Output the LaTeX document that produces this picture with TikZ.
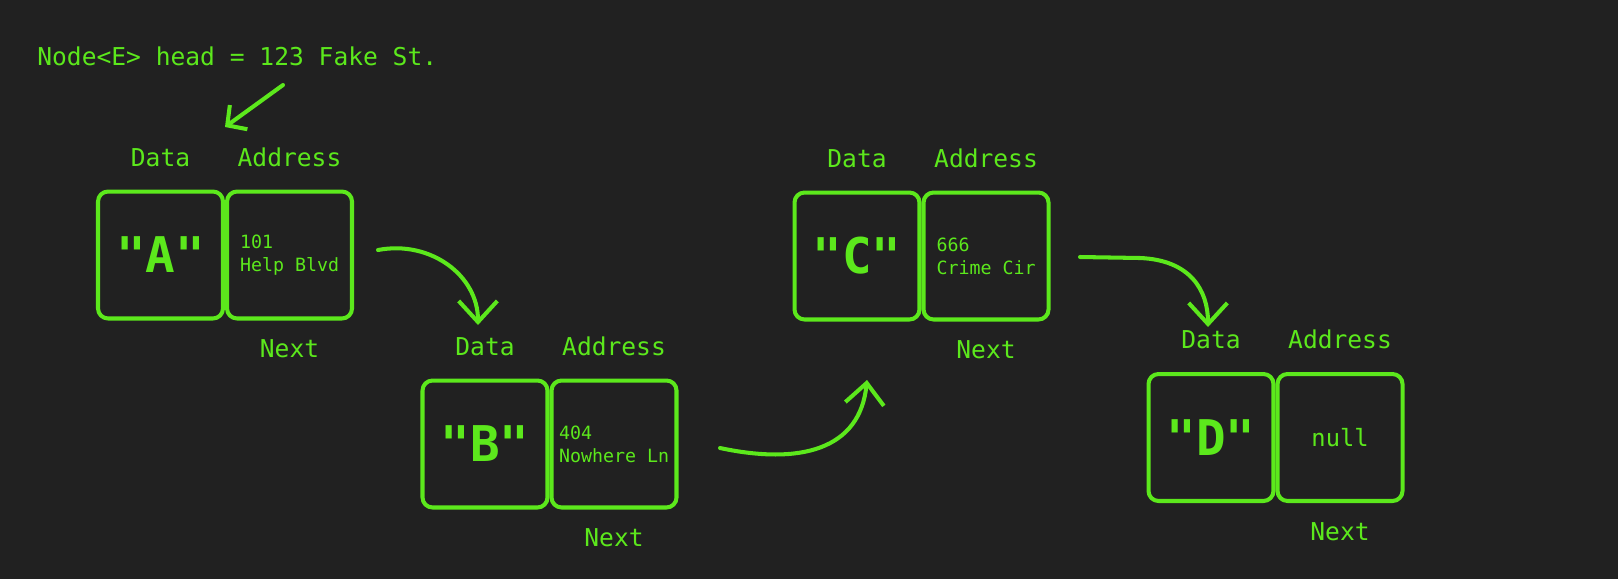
\documentclass[tikz,border=0pt]{standalone}
\usepackage{fontspec}
\setmonofont{DejaVu Sans Mono}
\usetikzlibrary{positioning,arrows.meta}
\definecolor{termGreen}{RGB}{92,232,28}
\definecolor{termBg}{RGB}{33,33,33}
\begin{document}
\begin{tikzpicture}
% linked list drawn on a pixel grid (y runs downwards)
\def\pxsz{0.02cm}
\providecommand{\llLineWidth}{2.3pt}
\providecommand{\llCornerRadius}{0.2cm}
\begin{scope}[x=\pxsz, y=-\pxsz, line cap=round, line join=round,
  cell/.style={draw=termGreen, line width=\llLineWidth, rounded corners=\llCornerRadius,
    minimum width=2.5cm, minimum height=2.54cm, inner sep=0pt, text=termGreen},
  datacell/.style={cell, font=\ttfamily\bfseries\fontsize{28}{32}\selectfont},
  addrcell/.style={cell, align=left, font=\ttfamily\fontsize{10.4}{13}\selectfont},
  celllabel/.style={text=termGreen, inner sep=0pt, font=\ttfamily\fontsize{14}{16}\selectfont},
  pointer/.style={draw=termGreen, line width=\llLineWidth,
    -{Straight Barb[length=12pt,width=22pt]}}]
  % Background
  \useasboundingbox (0,0) rectangle (1618,579);
  \fill[termBg] (0,0) rectangle (1618,579);
  % Head reference
  \node[celllabel, anchor=base west] (head) at (37,65) {Node<E> head = 123 Fake St.};
  % Nodes: data cell, then address cell to its right
  \node[datacell] (dataA) at (160.5,255) {"A"};
  \node[addrcell, right=0pt of dataA] (addrA) {101\\Help Blvd};
  \node[datacell] (dataB) at (485,444) {"B"};
  \node[addrcell, right=0pt of dataB] (addrB) {404\\Nowhere Ln};
  \node[datacell] (dataC) at (857,256) {"C"};
  \node[addrcell, right=0pt of dataC] (addrC) {666\\Crime Cir};
  \node[datacell] (dataD) at (1211,437.5) {"D"};
  \node[addrcell, right=0pt of dataD, font=\ttfamily\fontsize{13.5}{16}\selectfont] (addrD) {null};
  % Labels
  \foreach \n in {A,B,C,D} {
    \node[celllabel, above=0.45cm of data\n] (lblData\n) {Data};
    \node[celllabel, above=0.45cm of addr\n] (lblAddr\n) {Address};
    \node[celllabel, below=0.38cm of addr\n] (lblNext\n) {Next};
  }
  % Pointer ends
  \coordinate (headTail) at (283,85);
  \coordinate (headTip) at (225,127);
  \coordinate (abTail) at (378,250);
  \coordinate (abTip) at (478,325);
  \coordinate (bcTail) at (720,448);
  \coordinate (bcTip) at (867,380);
  \coordinate (cdTail) at (1080,257);
  \coordinate (cdTip) at (1208,327);
  % Pointers
  \draw[pointer, -{Straight Barb[length=8pt,width=17pt]}] (headTail) -- (headTip);
  \draw[pointer] (abTail) .. controls (430,240) and (478,275) .. (abTip);
  \draw[pointer] (bcTail) .. controls (800,465) and (860,450) .. (bcTip);
  \draw[pointer] (cdTail) -- (1140,258) .. controls (1190,260) and (1208,290) .. (cdTip);
\end{scope}
\end{tikzpicture}
\end{document}
